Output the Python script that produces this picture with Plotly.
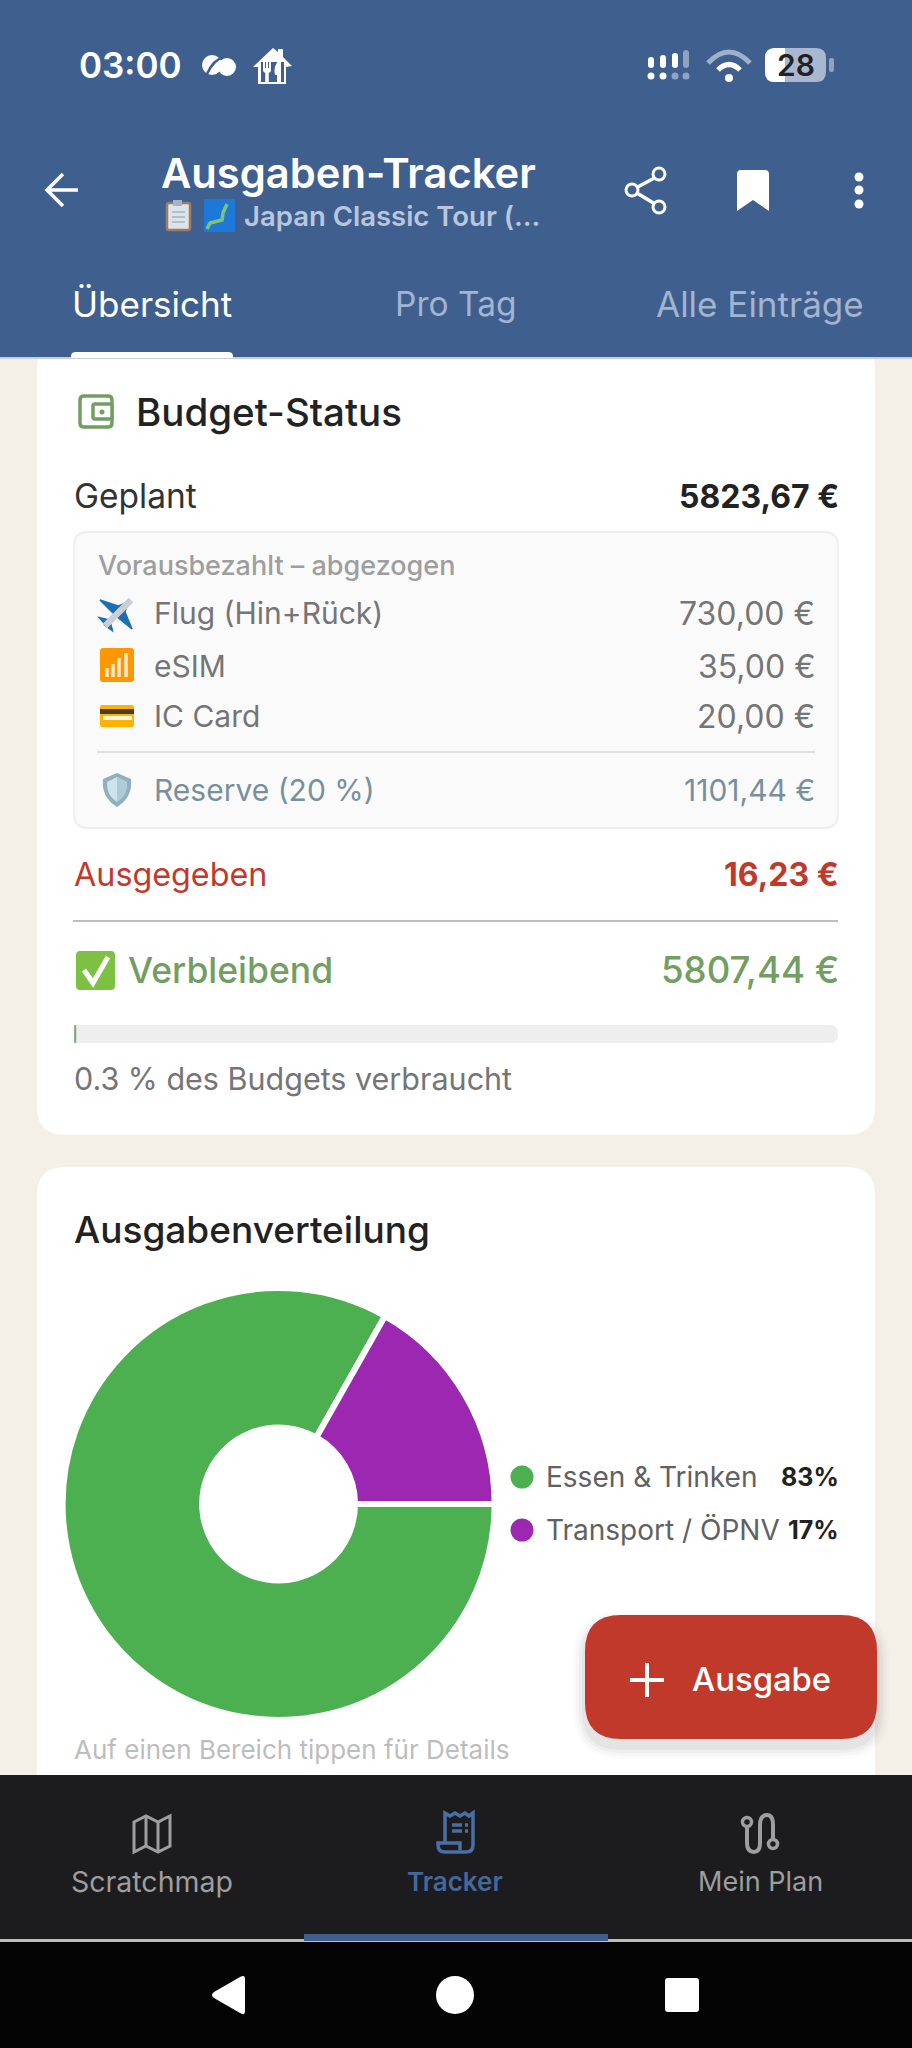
# --- imports ---
import plotly.graph_objects as go

# --- values ---
spend_labels = ["Essen & Trinken", "Transport / ÖPNV"]
spend_share = [83.2, 16.8]
spend_colors = ["#4CAF50", "#9C27B0"]

prepaid_labels = ["Flug (Hin+Rück)", "eSIM", "IC Card"]
prepaid_values = ["730,00 €", "35,00 €", "20,00 €"]
reserve_label = "Reserve (20 %)"
reserve_value = "1101,44 €"

planned_value = "5823,67 €"
spent_value = "16,23 €"
left_value = "5807,44 €"
used_percent = [0.3]
track_percent = [100]

tab_labels = ["Übersicht", "Pro Tag", "Alle Einträge"]
nav_labels = ["Scratchmap", "Tracker", "Mein Plan"]

# --- colours + font ---
BLUE = "#3F5F8F"
PAPER = "#F4F0E8"
GREEN = "#739E62"
RED = "#C0392B"
FONT = "Inter"

W, H = 912, 2048
shapes = []
notes = []


# ------------------------
# Helpers: everything is placed in screen pixels
# ------------------------
def rr(x0, y0, x1, y1, r):
    return (f"M{x0+r},{y0} H{x1-r} Q{x1},{y0} {x1},{y0+r} V{y1-r} Q{x1},{y1} {x1-r},{y1} "
            f"H{x0+r} Q{x0},{y1} {x0},{y1-r} V{y0+r} Q{x0},{y0} {x0+r},{y0} Z")


def path(d, fill=None, line=None, width=0):
    shapes.append(dict(type="path", path=d, xref="x", yref="y", layer="below",
                       fillcolor=fill or "rgba(0,0,0,0)",
                       line=dict(color=line or "rgba(0,0,0,0)", width=width)))


def box(x0, y0, x1, y1, r, fill=None, line=None, width=0):
    path(rr(x0, y0, x1, y1, r), fill, line, width)


def dot(cx, cy, r, fill, line=None, width=0):
    shapes.append(dict(type="circle", xref="x", yref="y", layer="below",
                       x0=cx-r, x1=cx+r, y0=cy-r, y1=cy+r, fillcolor=fill,
                       line=dict(color=line or "rgba(0,0,0,0)", width=width)))


def label(x, y, text, size, color, anchor="left", weight=400):
    # annotation boxes carry a little padding, pull the text back out to the edge
    nudge = {"left": -2.5, "right": 2.5, "center": 0}[anchor]
    notes.append(dict(x=x+nudge, y=y-1, xref="x", yref="y", text=text, showarrow=False,
                      xanchor=anchor, yanchor="middle", align=anchor,
                      font=dict(family=FONT, size=size, color=color, weight=weight)))


# --- page blocks ---
box(37, 340, 875, 1135, 28, "white")
box(37, 1167, 875, 1900, 28, "white")
path(f"M0,0 H{W} V357 H0 Z", BLUE)
path(f"M0,357 H{W} V359 H0 Z", "#C9CFDA")
path("M71,358 V356 Q71,352 76,352 H228 Q233,352 233,356 V358 Z", "white")
path(f"M0,1775 H{W} V1940 H0 Z", "#1C1C1E")
path(f"M0,1939 H{W} V1942 H0 Z", "#BDBDBD")
path(f"M0,1942 H{W} V{H} H0 Z", "#040404")
path("M304,1934 H608 V1941 H304 Z", BLUE)

# --- status bar ---
label(79, 66, "03:00", 35, "white", weight=600)
dot(212, 65, 10, "white")
dot(227, 67, 9, "white")
path("M207,74 Q213,60 225,56", None, BLUE, 2.5)
# delivery app icon
path("M273,48 L278,52 V49 H283 V57 L292,66 L286,67 V84 H258 V67 L253,67 Z", "white")
path("M261,62 H284 V82 H261 Z", BLUE)
path("M263,61 V70 Q263,73 267,73 Q271,73 271,70 V61 H269 V68 H268 V61 H266 V68 H265 V61 Z", "white")
path("M267,72 V84", None, "white", 3.5)
path("M279,60 Q273,66 275,75 H277 V84 H281 V60 Z", "white")
for x, top, mid_col, low_col in [(651, 57, "white", "white"), (663, 55, "white", "white"),
                                 (675, 53, "white", "#8FA2C2"), (686, 50, "#8FA2C2", "#8FA2C2")]:
    box(x-3, top, x+3, 68, 3, mid_col)
    dot(x, 76, 3.5, low_col)
path("M708,63 Q729,41 750,63", None, "#9FB0CC", 5)
path("M718,70 Q729,59 740,70", None, "white", 5)
dot(729, 78, 4, "white")
box(765, 48, 826, 82, 10, "#A9B7D0")
path("M775,48 H785 V82 H775 Q765,82 765,72 V58 Q765,48 775,48 Z", "white")
box(829, 58, 834, 72, 2, "#8FA2C2")
label(796, 66, "28", 30, "#222222", "center", 600)

# --- app bar ---
path("M78,190 H47 M63,174 L47,190 L63,206", None, "white", 3.5)
label(161, 174, "Ausgaben-Tracker", 41.7, "white", weight=600)
# clipboard + map emoji
box(167, 203, 190, 230, 2, "#DDE3EA", "#9C7C62", 2.5)
path("M172,212 H185 M172,217 H185 M172,222 H185", None, "#A9B2BC", 1.5)
path("M173,200 H182 V206 H173 Z", "#9FB6C8")
box(204, 199, 235, 232, 1, "#1E78D8")
path("M227,204 L223,213 L222,220 L210,223 L207,229", None, "#7CC576", 3.5)
label(244, 217, "Japan Classic Tour (…", 27.5, "#B9C6DC", weight=600)
path("M660,175 L632,190 L660,207", None, "white", 3.5)
for cx, cy in [(659, 174), (632, 190), (659, 207)]:
    dot(cx, cy, 6, BLUE, "white", 3)
path("M737,174 Q737,170 741,170 H765 Q769,170 769,174 V211 L753,200 L737,211 Z", "white")
for cy in [177, 190, 204]:
    dot(859, cy, 4.5, "white")

# --- tabs ---
label(152, 305, tab_labels[0], 35, "white", "center")
label(456, 305, tab_labels[1], 33.5, "#A3B4D0", "center")
label(760, 305, tab_labels[2], 35, "#A3B4D0", "center")

# --- budget card ---
box(80, 396, 112, 427, 4, None, GREEN, 3.5)
box(93, 404, 112, 419, 2, "white", GREEN, 3.5)
dot(102, 412, 2.5, GREEN)
label(136, 413, "Budget-Status", 38.5, "#222222", weight=500)

label(74, 497, "Geplant", 33.5, "#333333")
label(838, 497, planned_value, 32, "#222222", "right", 700)

box(74, 532, 838, 828, 14, "#FAFAFA", "#EEEEEE", 2)
label(98, 566, "Vorausbezahlt – abgezogen", 27, "#9E9E9E", weight=500)

item_rows = [614, 667, 717]
for y, name, value in zip(item_rows, prepaid_labels, prepaid_values):
    label(154, y, name, 30, "#757575")
    label(814, y, value, 32, "#757575", "right")

# plane emoji
path("M100,600 L118,606 L124,604 L114,614 Z", "#1B6FB5", "#1B6FB5", 1.5)
path("M132,629 L125,612 L127,606 L116,616 Z", "#1B6FB5", "#1B6FB5", 1.5)
path("M100,618 L108,620 L106,625 Z", "#1B6FB5", "#1B6FB5", 2)
path("M112,630 L110,622 L105,625 Z", "#1B6FB5", "#1B6FB5", 2)
path("M105,626 L131,600", None, "#C9CFD3", 6.5)
# antenna emoji
box(100, 648, 134, 682, 3, "#FF9800")
for x, top in [(107, 668), (113, 664), (119, 658), (126, 653)]:
    path(f"M{x},{top} V677", None, "#FFE9C8", 3.5)
# card emoji
box(100, 705, 134, 727, 2, "#FFB300")
path("M100,709 H134 V714 H100 Z", "#4E3B25")
path("M103,716 H132 V720 H103 Z", "#FFF6D8")

path("M97,752 H815", None, "#E0E0E0", 2)

# shield emoji
path("M117,773 L131,779 Q133,797 117,807 Q101,797 103,779 Z", "#8FB0BC")
path("M117,777 L127,782 Q128,795 117,802 Q106,795 107,782 Z", "#CFE3EC")
path("M117,777 L127,782 Q128,795 117,802 Z", "#B0CBD6")
label(154, 791, reserve_label, 30, "#78909C")
label(814, 791, reserve_value, 30, "#78909C", "right")

label(74, 875, "Ausgegeben", 32.3, RED)
label(838, 875, spent_value, 32, RED, "right", 700)
path("M73,921 H838", None, "#BDBDC5", 2)

box(76, 951, 115, 990, 4, "#7CC142")
path("M84,970 L93,983 L108,957", None, "white", 5)
label(128, 971, "Verbleibend", 35.5, GREEN, weight=500)
label(838, 971, left_value, 36.6, GREEN, "right", 500)

label(74, 1079, "0.3 % des Budgets verbraucht", 30.5, "#757575")

# --- distribution card ---
label(74, 1230, "Ausgabenverteilung", 37, "#222222", weight=500)

legend_rows = [1478, 1531]
for y, name, share, colour in zip(legend_rows, spend_labels, spend_share, spend_colors):
    dot(522, y-1, 11.5, colour)
    label(546, y, name, 28, "#616161")
    label(838, y, f"{round(share)}%", 25, "#222222", "right", 700)

label(74, 1750, "Auf einen Bereich tippen für Details", 26, "#BDBDBD")

# floating button with a soft shadow
for grow, alpha in [(12, 0.015), (9, 0.02), (6, 0.03), (3, 0.04)]:
    box(585-grow, 1615-grow+8, 877+grow, 1739+grow+8, 36+grow, f"rgba(0,0,0,{alpha})")
box(585, 1615, 877, 1739, 36, RED)
path("M647,1663 V1697 M630,1680 H664", None, "white", 4)
label(692, 1680, "Ausgabe", 32.8, "white", weight=500)

# bottom nav icons and labels
grey = "#9E9E9E"
path("M134,1822 L146,1816 L158,1822 L170,1816 V1846 L158,1852 L146,1846 L134,1852 Z", None, grey, 3)
path("M146,1816 V1846 M158,1822 V1852", None, grey, 3)
label(152, 1882, nav_labels[0], 28.5, grey, "center")

path("M445,1843 V1813 L450,1816 L455,1813 L460,1816 L465,1813 L469,1816 L473,1813 V1845 Q473,1852 466,1852 H445 "
     "Q438,1852 438,1845 V1843 H460 V1850", None, "#4A6FA5", 3.5)
path("M452,1825 H462 M452,1831 H462 M465,1825 H468 M465,1831 H468", None, "#4A6FA5", 3.5)
label(455, 1882, nav_labels[1], 26, "#45689C", "center", 600)

path("M747,1827 V1843 Q747,1852 754,1852 Q760,1852 760,1843 V1825 Q760,1815 767,1815 Q773,1815 773,1825 V1838",
     None, grey, 4)
dot(747, 1822, 4.5, "#1C1C1E", grey, 3.5)
dot(773, 1844, 4.5, "#1C1C1E", grey, 3.5)
label(760, 1882, nav_labels[2], 27, grey, "center")

# android buttons
path("M245,1979 V2011 Q245,2016 240,2013 L214,1998 Q210,1995 214,1992 L240,1977 Q245,1974 245,1979 Z", "white")
dot(455, 1995, 19, "white")
box(665, 1978, 699, 2012, 3, "white")

# --- chart + progress bar ---
fig = go.Figure()

cx, cy, rad = 278.6, 1504, 216
fig.add_trace(go.Pie(
    labels=spend_labels,
    values=spend_share,
    hole=0.354,
    sort=False,
    direction="clockwise",
    rotation=90,
    marker=dict(colors=spend_colors, line=dict(color="white", width=6)),
    textinfo="none",
    showlegend=False,
    domain=dict(x=[(cx-rad)/W, (cx+rad)/W], y=[1-(cy+rad)/H, 1-(cy-rad)/H]),
))

fig.add_trace(go.Bar(x=track_percent, y=[0], orientation="h", width=1, marker_color="#EEEEEE",
                     xaxis="x2", yaxis="y2", showlegend=False))
fig.add_trace(go.Bar(x=used_percent, y=[0], orientation="h", width=1, marker_color=GREEN,
                     xaxis="x2", yaxis="y2", showlegend=False))

# pixel axes for the app chrome, small axes for the progress bar
fig.update_layout(
    width=W, height=H, autosize=False,
    margin=dict(l=0, r=0, t=0, b=0),
    paper_bgcolor=PAPER, plot_bgcolor="rgba(0,0,0,0)",
    barmode="overlay", barcornerradius=8,
    xaxis=dict(range=[0, W], domain=[0, 1], visible=False, fixedrange=True),
    yaxis=dict(range=[H, 0], domain=[0, 1], visible=False, fixedrange=True),
    xaxis2=dict(range=[0, 100], domain=[74/W, 838/W], anchor="y2", visible=False),
    yaxis2=dict(range=[-0.5, 0.5], domain=[1-1043/H, 1-1025/H], anchor="x2", visible=False),
    shapes=shapes,
    annotations=notes,
)

fig.write_html("out.html", config=dict(displayModeBar=False),
               post_script="document.body.style.margin='0';")
